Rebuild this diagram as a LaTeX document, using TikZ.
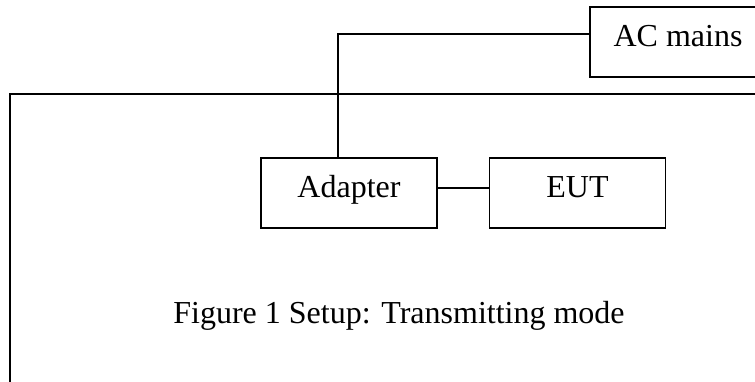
\documentclass[tikz,border=0pt]{standalone}
\usepackage{fontspec}
\setmainfont{Liberation Serif}
\tikzset{
  unit/.style={draw, line width=0.8pt, minimum width=176pt*0.5, minimum height=70pt*0.5,
    inner sep=0pt, text height=0.7em, text depth=0.28em},
  wire/.style={line width=0.8pt}
}
\begin{document}
\begin{tikzpicture}[x=0.5pt, y=-0.5pt, font=\fontsize{16}{19}\selectfont]
  \useasboundingbox (0,0) rectangle (755,381);
  % frame
  \draw [wire] (10,420) -- (10,94) -- (800,94) ;
  % units
  \node [unit] (mains) at (678,42) {AC mains} ;
  \node [unit] (adapter) at (349,193) {Adapter} ;
  \node [unit] (eut) at (577.5,193) {EUT} ;
  \coordinate (tap) at (338,34) ;
  % wiring
  \draw [wire] (mains.west |- tap) -- (tap) -- (adapter.north -| tap) ;
  \draw [wire] ([yshift=2.5pt]adapter.east) -- ([yshift=2.5pt]eut.west) ;
  % caption
  \node [anchor=base] (caption) at (399,323) {Figure 1 Setup: Transmitting mode} ;
\end{tikzpicture}
\end{document}
